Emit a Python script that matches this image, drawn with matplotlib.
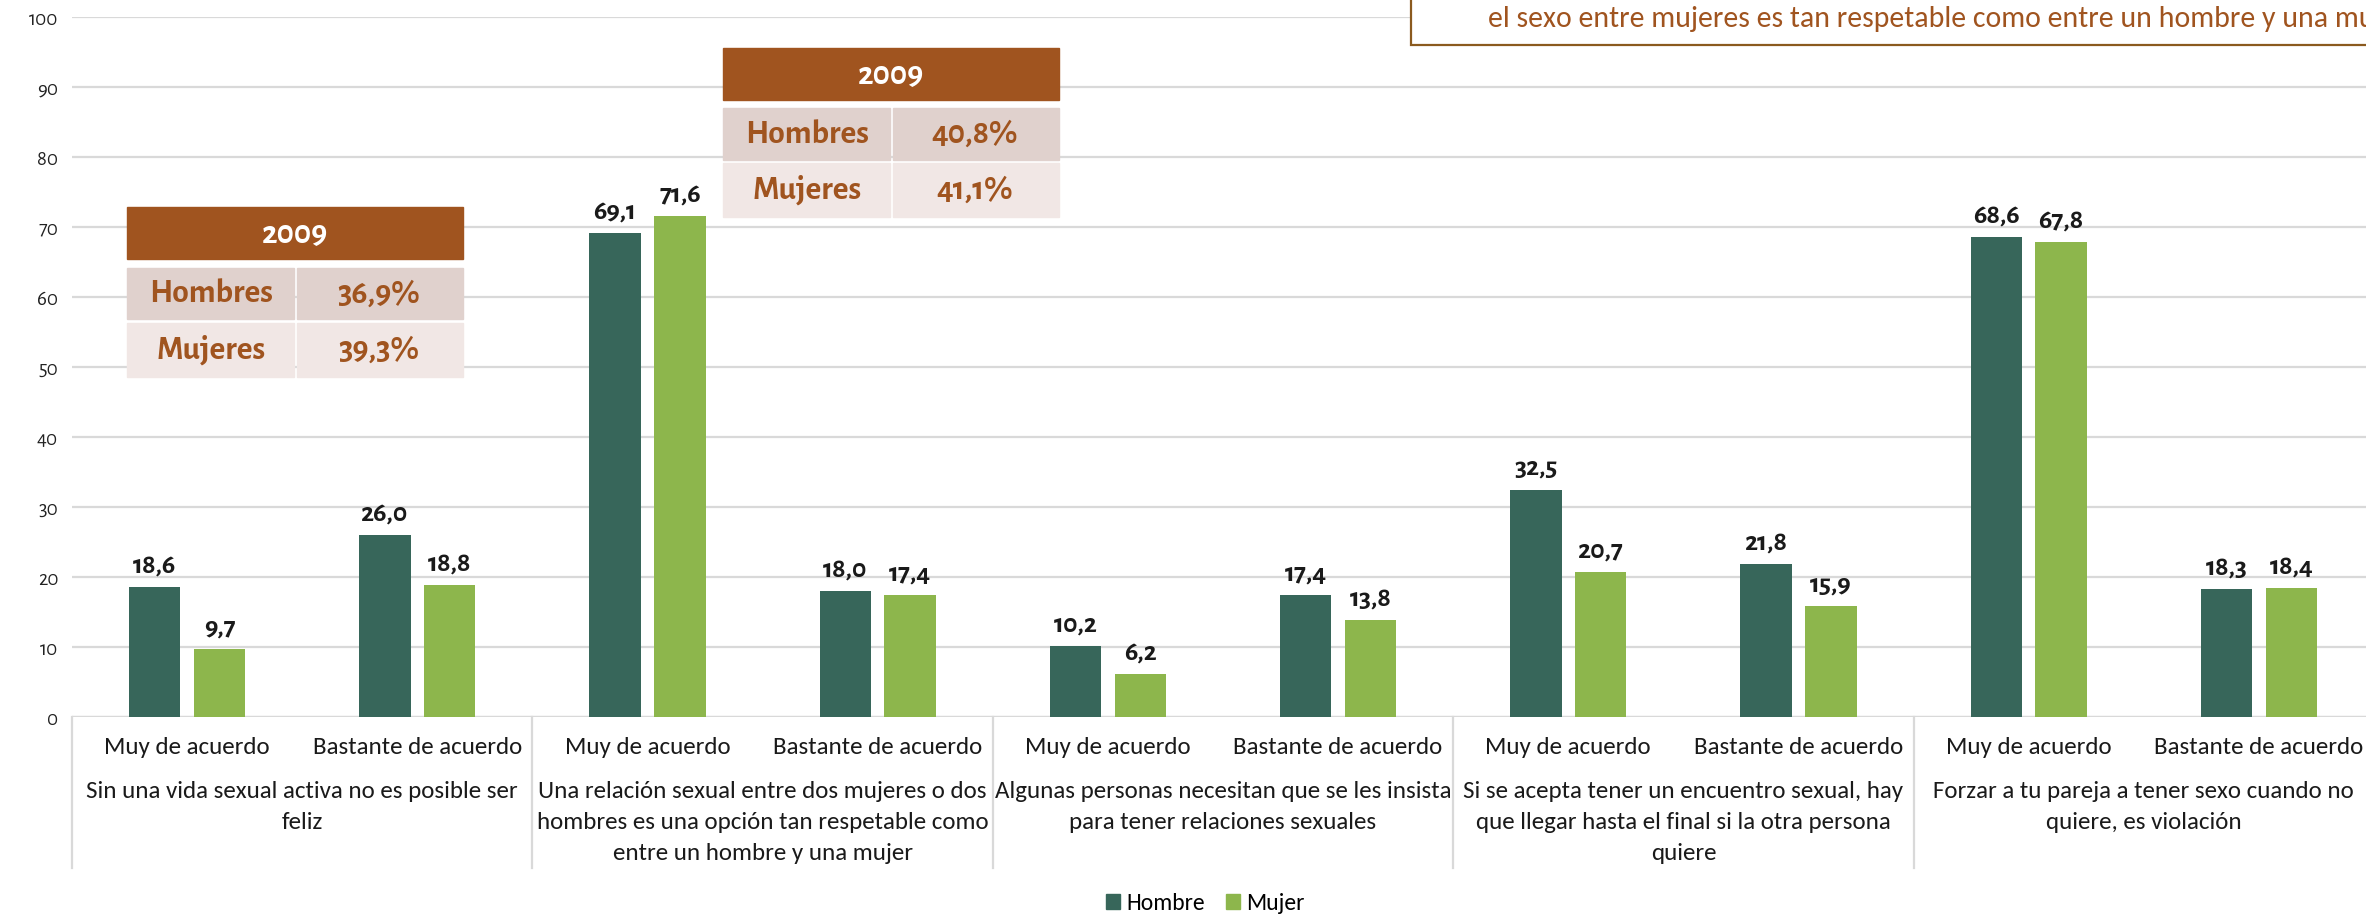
import matplotlib
matplotlib.use("Agg")
import matplotlib.pyplot as plt
from matplotlib import font_manager
from matplotlib.patches import Rectangle, Patch
from matplotlib.lines import Line2D

names = {f.name for f in font_manager.fontManager.ttflist}

def pick(cands):
    for c in cands:
        if c in names:
            return c
    return "DejaVu Sans"

LABEL_FONT = pick(["Carlito", "PT Sans Narrow", "Archivo Narrow", "Roboto Condensed", "Open Sans Condensed", "IBM Plex Sans Condensed"])
NUM_FONT = pick(["Alegreya Sans", "Cabin", "Lato"])

# ---------------- data ----------------
groups = [
    "Sin una vida sexual activa no es posible ser\nfeliz",
    "Una relación sexual entre dos mujeres o dos\nhombres es una opción tan respetable como\nentre un hombre y una mujer",
    "Algunas personas necesitan que se les insista\npara tener relaciones sexuales",
    "Si se acepta tener un encuentro sexual, hay\nque llegar hasta el final si la otra persona\nquiere",
    "Forzar a tu pareja a tener sexo cuando no\nquiere, es violación",
]
levels = ["Muy de acuerdo", "Bastante de acuerdo"]
hombre = [18.6, 26.0, 69.1, 18.0, 10.2, 17.4, 32.5, 21.8, 68.6, 18.3]
mujer = [9.7, 18.8, 71.6, 17.4, 6.2, 13.8, 20.7, 15.9, 67.8, 18.4]
series_names = ["Hombre", "Mujer"]
yticks = [0, 10, 20, 30, 40, 50, 60, 70, 80, 90, 100]

table1_title = "2009"
table1_rows = [("Hombres", "36,9%"), ("Mujeres", "39,3%")]
table2_title = "2009"
table2_rows = [("Hombres", "40,8%"), ("Mujeres", "41,1%")]
note_text = "el sexo entre mujeres es tan respetable como entre un hombre y una mujer"

# ---------------- style ----------------
C_H = "#37665A"
C_M = "#8DB64C"
BROWN = "#A0541F"
ROW1 = "#E0D1CD"
ROW2 = "#F1E7E5"
GRID = "#D9D9D9"

W, H = 2366, 917
fig = plt.figure(figsize=(W / 100, H / 100), dpi=100)

def fx(px):
    return px / W

def fy(py):
    return 1 - py / H

ax_left, ax_right, ax_top, ax_bot = 72, 2374, 17, 717
ax = fig.add_axes([fx(ax_left), fy(ax_bot), fx(ax_right - ax_left), (ax_bot - ax_top) / H])
ax.set_xlim(0, 10)
ax.set_ylim(0, 100)
for s in ax.spines.values():
    s.set_visible(False)
ax.set_yticks(yticks)
ax.set_yticklabels([str(t) for t in yticks], fontfamily=NUM_FONT, fontsize=15, color="#222222")
ax.tick_params(axis="y", length=0, pad=10)
ax.set_xticks([])
ax.yaxis.grid(True, color=GRID, linewidth=1.6)
ax.set_axisbelow(True)
ax.axhline(0, color=GRID, linewidth=1.6, zorder=1)

n = len(hombre)
xs = [i + 0.5 for i in range(n)]
bw = 0.223
off = 0.141
bh = ax.bar([x - off for x in xs], hombre, width=bw, color=C_H, zorder=3, label=series_names[0])
bm = ax.bar([x + off for x in xs], mujer, width=bw, color=C_M, zorder=3, label=series_names[1])

def fmt(v):
    return f"{v:.1f}".replace(".", ",")

for bars, vals in ((bh, hombre), (bm, mujer)):
    for b, v in zip(bars, vals):
        ax.annotate(fmt(v), (b.get_x() + b.get_width() / 2, v), xytext=(0, 10.5),
                    textcoords="offset points", ha="center", va="baseline",
                    fontfamily=NUM_FONT, fontweight="bold", fontsize=20, color="#1a1a1a")

# category axis (multi-level)
tr = ax.get_xaxis_transform()
axh = ax_bot - ax_top
for i, x in enumerate(xs):
    ax.text(x, -(747 - ax_bot) / axh, levels[i % 2], transform=tr, ha="center", va="center",
            fontfamily=LABEL_FONT, fontsize=18, color="#1a1a1a", clip_on=False)
for g, name in enumerate(groups):
    ax.text(2 * g + 1, -(781 - ax_bot) / axh, name, transform=tr, ha="center", va="top",
            fontfamily=LABEL_FONT, fontsize=18, color="#1a1a1a", linespacing=1.58, clip_on=False)
for g in range(len(groups) + 1):
    ax.add_line(Line2D([2 * g, 2 * g], [0, -(868 - ax_bot) / axh], transform=tr,
                       color=GRID, linewidth=1.6, clip_on=False))

# legend
handles = [Patch(color=C_H), Patch(color=C_M)]
fig.legend(handles, series_names, loc="center", bbox_to_anchor=(fx(1205), fy(903)), ncol=2,
           frameon=False, prop={"family": LABEL_FONT, "size": 17}, handlelength=0.6, handleheight=0.6,
           handletextpad=0.25, columnspacing=0.9, borderpad=0, borderaxespad=0)

# tables
def draw_table(x0, x1, xs_split, ys, title, rows):
    (h0, h1), (r10, r11), (r20, r21) = ys
    fig.add_artist(Rectangle((fx(x0), fy(h1)), fx(x1 - x0), (h1 - h0) / H,
                             transform=fig.transFigure, color=BROWN, zorder=5))
    fig.text(fx((x0 + x1) / 2), fy((h0 + h1) / 2), title, ha="center", va="center", color="white",
             fontfamily=NUM_FONT, fontweight="bold", fontsize=24, zorder=6)
    for (ya, yb), col, (lab, val) in zip(((r10, r11), (r20, r21)), (ROW1, ROW2), rows):
        fig.add_artist(Rectangle((fx(x0), fy(yb)), fx(xs_split - 1 - x0), (yb - ya) / H,
                                 transform=fig.transFigure, color=col, zorder=5))
        fig.add_artist(Rectangle((fx(xs_split + 2), fy(yb)), fx(x1 - xs_split - 2), (yb - ya) / H,
                                 transform=fig.transFigure, color=col, zorder=5))
        fig.text(fx((x0 + xs_split) / 2), fy((ya + yb) / 2), lab, ha="center", va="center",
                 color=BROWN, fontfamily=NUM_FONT, fontweight="bold", fontsize=24, zorder=6)
        fig.text(fx((xs_split + x1) / 2), fy((ya + yb) / 2), val, ha="center", va="center",
                 color=BROWN, fontfamily=NUM_FONT, fontweight="bold", fontsize=24, zorder=6)

draw_table(127, 463, 295, ((207, 259), (268, 319), (323, 377)), table1_title, table1_rows)
draw_table(723, 1059, 891, ((48, 100), (108, 160), (163, 217)), table2_title, table2_rows)

# note box at top right (partly outside the figure)
fig.add_artist(Rectangle((fx(1411), fy(45)), fx(1100), 100 / H, transform=fig.transFigure,
                         facecolor="white", edgecolor="#8B5A1E", linewidth=1.6, zorder=5))
fig.text(fx(1488), fy(19), note_text, ha="left", va="center", color=BROWN,
         fontfamily=LABEL_FONT, fontsize=21.5, zorder=6)

fig.savefig("out.png", dpi=100)
